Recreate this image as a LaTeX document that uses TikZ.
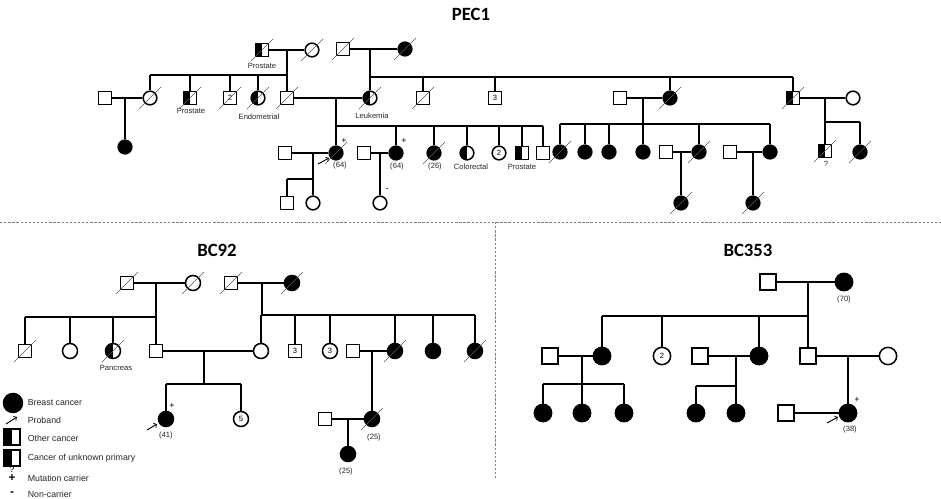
\documentclass[tikz,border=0pt]{standalone}
\usepackage{fontspec}
\setmainfont{Liberation Sans}
\newfontfamily\titlefont{Carlito}

\tikzset{
  ind/.style={draw, line width=1.3pt, inner sep=0pt, font=\fontsize{6.5}{7}\selectfont},
  sq/.style={ind, rectangle, minimum size=#1},
  sq/.default=0.38cm,
  ci/.style={ind, circle, minimum size=#1},
  ci/.default=0.41cm,
  aff/.style={fill=black},
  half/.style={path picture={\fill[black] (path picture bounding box.south west) rectangle (path picture bounding box.north);}},
  rel/.style={line width=1.6pt},
  dead/.style={gray!70!black, line width=0.5pt},
  lbl/.style={font=\fontsize{6.5}{7}\selectfont, inner sep=0.5pt, text=black!85},
  lgd/.style={font=\fontsize{7.5}{8}\selectfont, inner sep=0.5pt, anchor=west, text=black!85},
  carrier/.style={font=\fontsize{7.5}{7.5}\selectfont, inner sep=0pt},
  ttl/.style={font=\titlefont\bfseries\fontsize{16}{18}\selectfont},
  sep/.style={gray, line width=0.6pt, dash pattern=on 2pt off 1.5pt},
  prb/.style={->, line width=0.8pt},
}
\newcommand{\dec}[1]{\draw[dead] ([shift={(-11,11)}]#1.center) -- ([shift={(11,-11)}]#1.center);}

\begin{document}
\begin{tikzpicture}[x=0.03cm, y=-0.03cm]
    \useasboundingbox (0,0) rectangle (941,499);

    % separators
    \coordinate (hl) at (0,222);
    \coordinate (hr) at (941,222);
    \coordinate (vb) at (495,478);
    \draw[sep] (hl) -- (hr);
    \draw[sep] (hl -| vb) -- (vb);

    % ---------------- PEC1 ----------------
    \node[ttl] (t1) at (471,14) {PEC1};

    \node[sq, half] (a1) at (262,50) {};
    \node[ci] (a2) at (312,50) {};
    \node[sq] (b1) at (343,49) {};
    \node[ci, aff] (b2) at (405,49) {};
    \node[lbl] (a1l) at (262,66) {Prostate};

    \node[sq] (c0) at (105,98) {};
    \node[ci] (c1) at (150,98) {};
    \node[sq, half] (c2) at (190,98) {};
    \node[sq] (c3) at (230,98) {2};
    \node[ci, half] (c4) at (258,98) {};
    \node[sq] (c5) at (287,98) {};
    \node[ci, half] (c6) at (370,98) {};
    \node[sq] (c7) at (423,98) {};
    \node[sq] (c8) at (495,98) {3};
    \node[sq] (c9) at (620,98) {};
    \node[ci, aff] (c10) at (670,98) {};
    \node[sq, half] (c11) at (793,98) {};
    \node[ci] (c12) at (853,98) {};
    \node[lbl] (c2l) at (191,111) {Prostate};
    \node[lbl] (c4l) at (259,117) {Endometrial};
    \node[lbl] (c6l) at (372,116) {Leukemia};

    \node[ci, aff] (d0) at (125,147) {};
    \node[sq, half] (d20) at (825,151) {};
    \node[ci, aff] (d21) at (860,152) {};
    \node[lbl] (d20l) at (826,164) {?};

    \node[sq] (e0) at (285,153) {};
    \node[ci, aff] (e1) at (336,153) {};
    \node[sq] (e2) at (364,153) {};
    \node[ci, aff] (e3) at (396,153) {};
    \node[ci, aff] (e4) at (434,153) {};
    \node[ci, half] (e5) at (467,153) {};
    \node[ci] (e6) at (499,153) {2};
    \node[sq, half] (e7) at (522,153) {};
    \node[sq] (e8) at (543,153) {};
    \node[carrier] (e1p) at (344,141) {+};
    \node[carrier] (e3p) at (404,141) {+};
    \node[lbl] (e1l) at (340,166) {(64)};
    \node[lbl] (e3l) at (397,167) {(64)};
    \node[lbl] (e4l) at (435,167) {(26)};
    \node[lbl] (e5l) at (471,167) {Colorectal};
    \node[lbl] (e7l) at (522,167) {Prostate};

    \node[sq] (f0) at (287,203) {};
    \node[ci] (f1) at (313,203) {};
    \node[ci] (g0) at (380,203) {};
    \node[carrier] (g0m) at (387,190) {-};

    \node[ci, aff] (h1) at (560,152) {};
    \node[ci, aff] (h2) at (585,152) {};
    \node[ci, aff] (h3) at (609,152) {};
    \node[ci, aff] (h4) at (643,152) {};
    \node[sq] (h5) at (666,152) {};
    \node[ci, aff] (h6) at (699,152) {};
    \node[sq] (h7) at (730,152) {};
    \node[ci, aff] (h8) at (770,152) {};
    \node[ci, aff] (i1) at (681,203) {};
    \node[ci, aff] (i2) at (753,203) {};

    \foreach \n in {a1,a2,b1,b2,c1,c2,c3,c4,c5,c6,c7,c10,c11,d20,d21,e1,e4,h1,h6,i1,i2}
        {\dec{\n}}

    % couples and descent
    \coordinate (pa) at (287,50);  \coordinate (sa) at (287,75);
    \coordinate (pb) at (370,49);  \coordinate (sb) at (370,77);
    \coordinate (pc) at (336,98);  \coordinate (sc) at (336,126);
    \coordinate (pd) at (643,98);  \coordinate (sd) at (643,124);
    \coordinate (pk) at (825,98);  \coordinate (sk) at (825,122);
    \coordinate (p0) at (125,98);
    \coordinate (pe) at (313,153); \coordinate (se) at (313,179);
    \coordinate (pg) at (380,153);
    \coordinate (pi) at (681,152);
    \coordinate (pj) at (753,152);

    \draw[rel] (a1) -- (a2);
    \draw[rel] (b1) -- (b2);
    \draw[rel] (c0) -- (c1);
    \draw[rel] (c5) -- (c6);
    \draw[rel] (c9) -- (c10);
    \draw[rel] (c11) -- (c12);
    \draw[rel] (e0) -- (e1);
    \draw[rel] (e2) -- (e3);
    \draw[rel] (h5) -- (h6);
    \draw[rel] (h7) -- (h8);

    \draw[rel] (pa) -- (sa) -- (c1 |- sa);
    \foreach \k in {c1,c2,c3,c4,c5} \draw[rel] (\k) -- (\k |- sa);
    \draw[rel] (pb) -- (sb) -- (c11 |- sb);
    \foreach \k in {c6,c7,c8,c10,c11} \draw[rel] (\k) -- (\k |- sb);
    \draw[rel] (pc) -- (sc) -- (e8 |- sc);
    \foreach \k in {e1,e3,e4,e5,e6,e7,e8} \draw[rel] (\k) -- (\k |- sc);
    \draw[rel] (h1 |- sd) -- (h8 |- sd);
    \draw[rel] (pd) -- (sd);
    \foreach \k in {h1,h2,h3,h4,h6,h8} \draw[rel] (\k) -- (\k |- sd);
    \draw[rel] (pk) -- (sk) -- (d21 |- sk);
    \foreach \k in {d20,d21} \draw[rel] (\k) -- (\k |- sk);
    \draw[rel] (p0) -- (d0);
    \draw[rel] (pe) -- (se) -- (f0 |- se);
    \foreach \k in {f0,f1} \draw[rel] (\k) -- (\k |- se);
    \draw[rel] (pg) -- (g0);
    \draw[rel] (pi) -- (i1);
    \draw[rel] (pj) -- (i2);

    \coordinate (e1a) at (318,164);
    \coordinate (e1b) at (329,158);
    \draw[prb] (e1a) -- (e1b);

    % ---------------- BC92 ----------------
    \node[ttl] (t2) at (217,250) {BC92};

    \node[sq=0.40cm] (j1) at (127,283) {};
    \node[ci=0.45cm] (j2) at (193,283) {};
    \node[sq=0.40cm] (j3) at (231,283) {};
    \node[ci=0.45cm, aff] (j4) at (292,283) {};

    \node[sq=0.40cm] (k1) at (25,351) {};
    \node[ci=0.45cm] (k2) at (70,351) {};
    \node[ci=0.45cm, half] (k3) at (113,351) {};
    \node[sq=0.40cm] (k4) at (156,351) {};
    \node[ci=0.45cm] (k5) at (261,351) {};
    \node[sq=0.40cm] (k6) at (295,351) {3};
    \node[ci=0.45cm] (k7) at (330,351) {3};
    \node[sq=0.40cm] (k8) at (353,351) {};
    \node[ci=0.45cm, aff] (k9) at (395,351) {};
    \node[ci=0.45cm, aff] (k10) at (433,351) {};
    \node[ci=0.45cm, aff] (k11) at (475,351) {};
    \node[lbl] (k3l) at (116,368) {Pancreas};

    \node[ci=0.45cm, aff] (l1) at (166,419) {};
    \node[ci=0.45cm] (l2) at (241,419) {5};
    \node[sq=0.40cm] (l3) at (325,419) {};
    \node[ci=0.45cm, aff] (l4) at (372,419) {};
    \node[ci=0.45cm, aff] (l5) at (348,454) {};
    \node[carrier] (l1p) at (172,406) {+};
    \node[lbl] (l1l) at (166,436) {(41)};
    \node[lbl] (l4l) at (374,438) {(25)};
    \node[lbl] (l5l) at (346,472) {(25)};

    \foreach \n in {j1,j2,j3,j4,k1,k3,k9,k11,l4}
        {\dec{\n}}

    \coordinate (pm) at (156,283); \coordinate (sm) at (156,317);
    \coordinate (pn) at (262,283); \coordinate (sn) at (262,315);
    \coordinate (po) at (204,351); \coordinate (so) at (204,384);
    \coordinate (pq) at (372,351);
    \coordinate (pr) at (348,419);

    \draw[rel] (j1) -- (j2);
    \draw[rel] (j3) -- (j4);
    \draw[rel] (k4) -- (k5);
    \draw[rel] (k8) -- (k9);
    \draw[rel] (l3) -- (l4);

    \draw[rel] (pm) -- (sm) -- (k1 |- sm);
    \foreach \k in {k1,k2,k3,k4} \draw[rel] (\k) -- (\k |- sm);
    \draw[rel] (pn) -- (sn) -- (k11 |- sn);
    \foreach \k in {k5,k6,k7,k9,k10,k11} \draw[rel] (\k) -- (\k |- sn);
    \draw[rel] (po) -- (so);
    \draw[rel] (l1 |- so) -- (l2 |- so);
    \foreach \k in {l1,l2} \draw[rel] (\k) -- (\k |- so);
    \draw[rel] (pq) -- (l4);
    \draw[rel] (pr) -- (l5);

    \coordinate (l1a) at (147,430);
    \coordinate (l1b) at (157,424);
    \draw[prb] (l1a) -- (l1b);

    % legend
    \node[ci=0.57cm, aff] (lg1) at (13,403) {};
    \node[lgd] (lg1t) at (27,403) {Breast cancer};
    \coordinate (lg2a) at (6,424);
    \coordinate (lg2b) at (17,417);
    \draw[prb] (lg2a) -- (lg2b);
    \node[lgd] (lg2t) at (27,420) {Proband};
    \node[sq=0.48cm, half] (lg3) at (12,437) {};
    \node[lgd] (lg3t) at (27,438) {Other cancer};
    \node[sq=0.48cm, half] (lg4) at (12,458) {};
    \node[lgd] (lg4t) at (27,458) {Cancer of unknown primary};
    \node[carrier] (lg5q) at (12,469) {?};
    \node[carrier, font=\fontsize{10}{10}\selectfont\bfseries] (lg5) at (12,478) {+};
    \node[lgd] (lg5t) at (27,478) {Mutation carrier};
    \node[carrier, font=\fontsize{10}{10}\selectfont\bfseries] (lg6) at (12,494) {-};
    \node[lgd] (lg6t) at (27,494) {Non-carrier};

    % ---------------- BC353 ----------------
    \node[ttl] (t3) at (748,250) {BC353};

    \node[sq=0.48cm] (n1) at (768,282) {};
    \node[ci=0.52cm, aff] (n2) at (844,282) {};
    \node[lbl] (n2l) at (844,300) {(70)};

    \node[sq=0.48cm] (o1) at (550,356) {};
    \node[ci=0.52cm, aff] (o2) at (602,356) {};
    \node[ci=0.52cm] (o3) at (662,356) {2};
    \node[sq=0.48cm] (o4) at (700,356) {};
    \node[ci=0.52cm, aff] (o5) at (759,356) {};
    \node[sq=0.48cm] (o6) at (808,356) {};
    \node[ci=0.52cm] (o7) at (888,356) {};

    \node[ci=0.52cm, aff] (q1) at (543,413) {};
    \node[ci=0.52cm, aff] (q2) at (582,413) {};
    \node[ci=0.52cm, aff] (q3) at (624,413) {};
    \node[ci=0.52cm, aff] (q4) at (696,413) {};
    \node[ci=0.52cm, aff] (q5) at (736,413) {};
    \node[sq=0.48cm] (q6) at (786,413) {};
    \node[ci=0.52cm, aff] (q7) at (848,413) {};
    \node[carrier] (q7p) at (857,400) {+};
    \node[lbl] (q7l) at (850,430) {(38)};

    \coordinate (pt) at (808,282); \coordinate (st) at (808,316);
    \coordinate (pu) at (582,356); \coordinate (su) at (582,384);
    \coordinate (pv) at (736,356); \coordinate (sv) at (736,386);
    \coordinate (pw) at (848,356);

    \draw[rel] (n1) -- (n2);
    \draw[rel] (o1) -- (o2);
    \draw[rel] (o4) -- (o5);
    \draw[rel] (o6) -- (o7);
    \draw[rel] (q6) -- (q7);

    \draw[rel] (pt) -- (st) -- (o2 |- st);
    \foreach \k in {o2,o3,o5,o6} \draw[rel] (\k) -- (\k |- st);
    \draw[rel] (pu) -- (su);
    \draw[rel] (q1 |- su) -- (q3 |- su);
    \foreach \k in {q1,q2,q3} \draw[rel] (\k) -- (\k |- su);
    \draw[rel] (pv) -- (sv) -- (q4 |- sv);
    \foreach \k in {q4,q5} \draw[rel] (\k) -- (\k |- sv);
    \draw[rel] (pw) -- (q7);

    \coordinate (q7a) at (827,423);
    \coordinate (q7b) at (838,417);
    \draw[prb] (q7a) -- (q7b);
\end{tikzpicture}
\end{document}
